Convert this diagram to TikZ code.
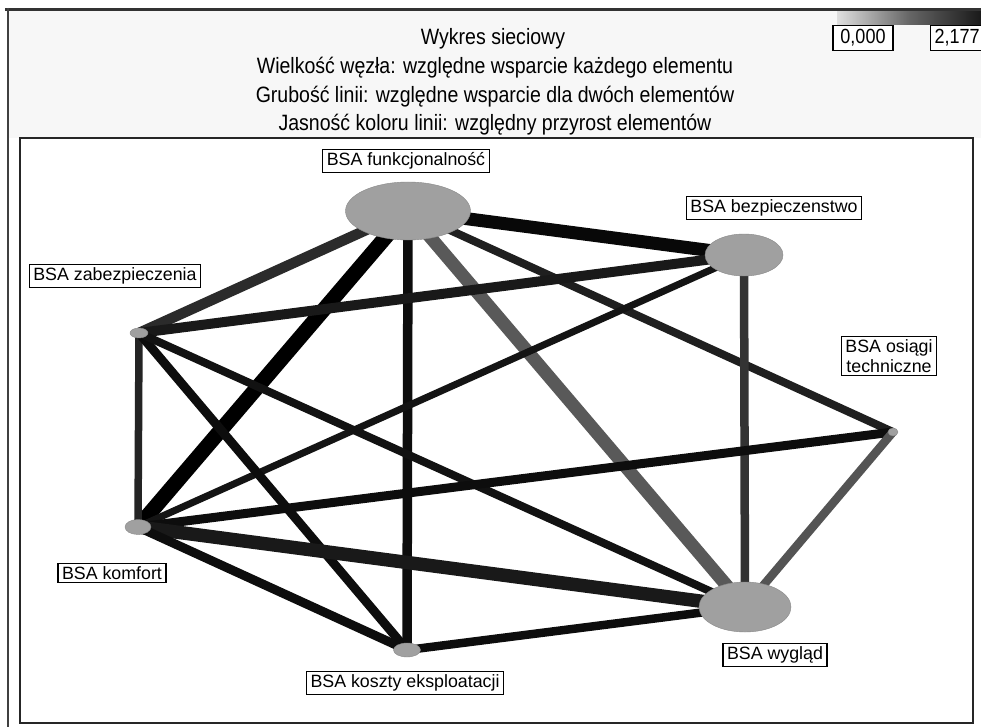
\documentclass[tikz,border=0pt]{standalone}
\usepackage{fontspec}
\setmainfont{Liberation Sans}
\newfontfamily\hdrfont[FakeStretch=0.88]{Liberation Sans}
\usetikzlibrary{shapes.geometric}
\pgfdeclarelayer{back}
\pgfdeclarelayer{bg}
\pgfsetlayers{back,bg,main}
\definecolor{nodegray}{HTML}{A0A0A0}
\definecolor{headbg}{HTML}{F7F7F7}
\tikzset{
  vert/.style={ellipse, fill=nodegray, draw=nodegray!85!black, line width=0.4pt, inner sep=0pt},
  lbl/.style={draw=black, fill=white, line width=1.2pt, inner xsep=4pt, inner ysep=3pt,
              font=\fontsize{17.8}{19}\selectfont},
  ttl/.style={font=\hdrfont\fontsize{22.2}{24}\selectfont, anchor=center},
  edge/.style={line cap=butt},
}
\begin{document}
\begin{tikzpicture}[x=1pt,y=-1pt]
\useasboundingbox (0,0) rectangle (981,727);
\begin{pgfonlayer}{back}
\fill[white] (0,0) rectangle (981,727);
\fill[headbg] (8,11) rectangle (981,138);
\end{pgfonlayer}
% header
\shade[left color=gray!25, right color=black!90, middle color=black!60] (837,12) rectangle (981,25);
\draw[line width=3pt, black!80] (5,9.5) -- (981,9.5);
\draw[line width=1.6pt, black!75] (8,8) -- (8,727);
\node[ttl] (t1) at (493,39) {Wykres sieciowy};
\node[ttl] (t2) at (495,68) {Wielkość węzła: względne wsparcie każdego elementu};
\node[ttl] (t3) at (495,97) {Grubość linii: względne wsparcie dla dwóch elementów};
\node[ttl] (t4) at (495,125) {Jasność koloru linii: względny przyrost elementów};
\node[draw=black, fill=white, line width=1.2pt, minimum width=60pt, minimum height=25pt, inner sep=0pt,
      font=\hdrfont\fontsize{20.5}{22}\selectfont] (v0) at (863,38) {0,000};
\node[draw=black, fill=white, line width=1.2pt, anchor=west, minimum height=25pt, inner xsep=4pt, inner ysep=0pt,
      font=\hdrfont\fontsize{20.5}{22}\selectfont] (v1) at (930,38) {2,177\,};
% plot frame
\draw[line width=1.2pt, black!85] (20,138) rectangle (973,723);
% vertices
\node[vert, minimum width=125pt, minimum height=58pt] (funk) at (408,211) {};
\node[vert, minimum width=78pt, minimum height=42pt] (bezp) at (744,255) {};
\node[vert, minimum width=18pt, minimum height=10pt] (zabez) at (139,333) {};
\node[vert, minimum width=10pt, minimum height=8pt] (osiagi) at (893,432) {};
\node[vert, minimum width=26pt, minimum height=15pt] (komfort) at (138,527) {};
\node[vert, minimum width=27pt, minimum height=14pt] (koszty) at (407,650) {};
\node[vert, minimum width=92pt, minimum height=50pt] (wyglad) at (745,607) {};
% edges
\begin{pgfonlayer}{bg}
\draw[edge, line width=13pt, black!97] (funk.center) -- (bezp.center);
\draw[edge, line width=10.5pt, black!83] (funk.center) -- (zabez.center);
\draw[edge, line width=15pt, black] (funk.center) -- (komfort.center);
\draw[edge, line width=9.5pt, black!95] (funk.center) -- (koszty.center);
\draw[edge, line width=13pt, black!65] (funk.center) -- (wyglad.center);
\draw[edge, line width=8pt, black!88] (funk.center) -- (osiagi.center);
\draw[edge, line width=10pt, black!90] (bezp.center) -- (zabez.center);
\draw[edge, line width=7pt, black!92] (bezp.center) -- (komfort.center);
\draw[edge, line width=8.5pt, black!80] (bezp.center) -- (wyglad.center);
\draw[edge, line width=7.5pt, black!86] (zabez.center) -- (komfort.center);
\draw[edge, line width=9pt, black!95] (zabez.center) -- (koszty.center);
\draw[edge, line width=8pt, black!93] (zabez.center) -- (wyglad.center);
\draw[edge, line width=9pt, black!95] (komfort.center) -- (osiagi.center);
\draw[edge, line width=13.5pt, black!90] (komfort.center) -- (wyglad.center);
\draw[edge, line width=9pt, black!95] (komfort.center) -- (koszty.center);
\draw[edge, line width=8.5pt, black!95] (koszty.center) -- (wyglad.center);
\draw[edge, line width=8.5pt, black!67] (osiagi.center) -- (wyglad.center);
\end{pgfonlayer}
% labels
\node[lbl] (lfunk) at (406,161) {BSA funkcjonalność};
\node[lbl] (lbezp) at (774,208) {BSA bezpieczenstwo};
\node[lbl] (lzabez) at (115,276) {BSA zabezpieczenia};
\node[lbl, align=center, font=\fontsize{17.8}{20}\selectfont] (losiagi) at (889,356) {BSA osiągi\\techniczne};
\node[lbl] (lkomfort) at (112,573) {BSA komfort};
\node[lbl] (lkoszty) at (405,683) {BSA koszty eksploatacji};
\node[lbl] (lwyglad) at (775,655) {BSA wygląd};
\end{tikzpicture}
\end{document}
